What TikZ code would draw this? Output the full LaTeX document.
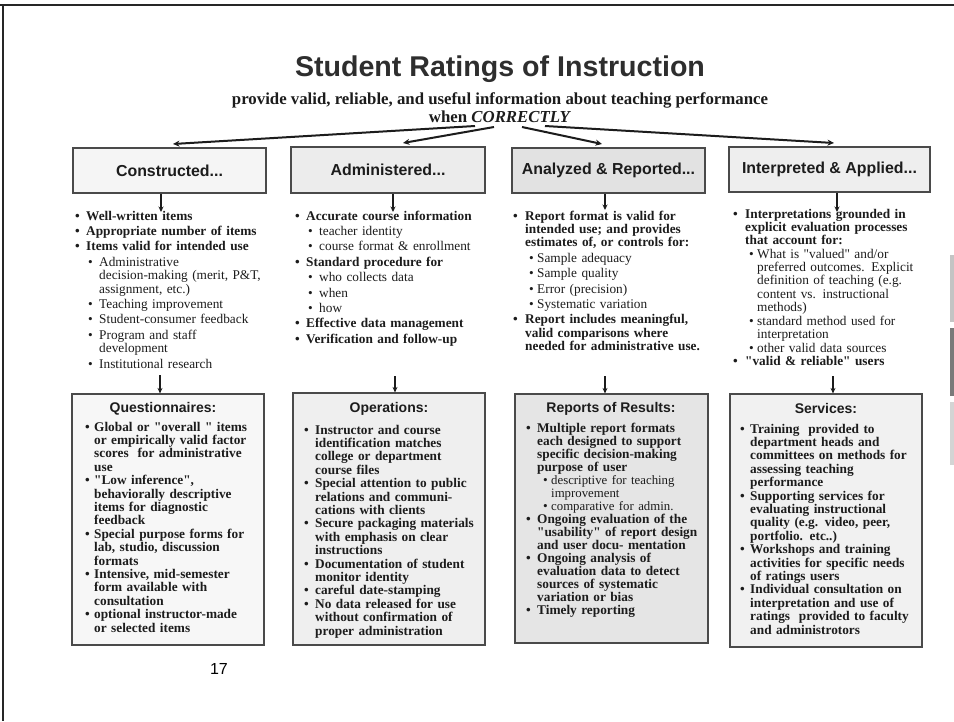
\documentclass[tikz,border=0pt]{standalone}
\usepackage{fontspec}
\usetikzlibrary{arrows.meta,shadows}
\newfontfamily\srf{Liberation Serif}
\newfontfamily\sns{Liberation Sans}
\definecolor{ink}{HTML}{1C1C1C}
\definecolor{edge}{HTML}{4A4A4A}
\definecolor{hba}{HTML}{F5F5F5}
\definecolor{hbb}{HTML}{ECECEC}
\definecolor{hbc}{HTML}{E2E2E2}
\definecolor{hbd}{HTML}{EEEEEE}
\definecolor{bba}{HTML}{F7F7F7}
\definecolor{bbb}{HTML}{EFEFEF}
\definecolor{bbc}{HTML}{E5E5E5}
\definecolor{bbd}{HTML}{F1F1F1}
\def\mind{11pt}\def\sbul{13pt}\def\sind{24pt}
\newcommand{\nl}{\newline}
\newcommand{\mi}[1]{\par\noindent\hangindent=\mind\hangafter=1\strut\makebox[\mind][l]{\bfseries\textbullet}{\bfseries #1\par}}
\newcommand{\si}[1]{\par\noindent\hangindent=\sind\hangafter=1\strut\hspace*{\sbul}\makebox[\dimexpr\sind-\sbul\relax][l]{\textbullet}{#1\par}}
\tikzset{
  hbox/.style={draw=edge, line width=1.2pt, inner sep=0pt, text=ink,
    font=\sns\bfseries\fontsize{15.9}{18}\selectfont,
    drop shadow={shadow xshift=1.3pt, shadow yshift=-1.3pt, fill=black!40, opacity=1}},
  bbox/.style={draw=edge, line width=1.2pt, inner sep=0pt,
    drop shadow={shadow xshift=1.3pt, shadow yshift=-1.3pt, fill=black!40, opacity=1}},
  bhead/.style={inner sep=0pt, text=ink, font=\sns\bfseries\fontsize{14}{16}\selectfont},
  lst/.style={anchor=north west, inner sep=0pt, text width=235pt, text=ink,
    font=\srf\fontsize{13.3}{13.4}\selectfont,
    execute at begin node={\setlength{\parskip}{2pt}\lineskiplimit=-20pt\lineskip=0pt}},
  blst/.style={anchor=north west, inner sep=0pt, text width=200pt, text=ink,
    font=\srf\fontsize{13.3}{13.4}\selectfont,
    execute at begin node={\setlength{\parskip}{0pt}\lineskiplimit=-20pt\lineskip=0pt}},
  bigarr/.style={draw=ink, line width=2pt, -{Stealth[length=6.5pt,width=6pt]}},
  varr/.style={draw=ink, line width=1.6pt, -{Stealth[length=5.5pt,width=5pt]}}
}
\begin{document}
\begin{tikzpicture}[x=1pt,y=-1pt]
\useasboundingbox (0,0) rectangle (954,721);
\fill[white] (0,0) rectangle (954,721);
% frame
\draw[line width=2.6pt, black!85] (0,5) -- (954,5);
\draw[line width=2.3pt, black!85] (3,4) -- (3,721);
% scan strips at right edge
\fill[black!23] (950,255) rectangle (954,322);
\fill[black!52] (950,328) rectangle (954,396);
\fill[black!17] (950,402) rectangle (954,465);

% title
\node[inner sep=0pt, text=black!82, font=\sns\bfseries\fontsize{28.6}{32}\selectfont] (title) at (500,69) {Student Ratings of Instruction};
\node[inner sep=0pt, text=ink, font=\srf\bfseries\fontsize{16.8}{18}\selectfont] (sub) at (500,100) {provide valid, reliable, and useful information about teaching performance};
\node[inner sep=0pt, text=ink, font=\srf\bfseries\fontsize{16.8}{18}\selectfont] (when) at (500,117) {when \textit{CORRECTLY}};

% header boxes
\node[hbox, fill=hba, minimum width=193pt, minimum height=45pt] (b1) at (169.5,170.5) {Constructed...};
\node[hbox, fill=hbb, minimum width=194pt, minimum height=46pt] (b2) at (388,170) {Administered...};
\node[hbox, fill=hbc, minimum width=193pt, minimum height=45pt] (b3) at (608.5,170.5) {Analyzed \& Reported...};
\node[hbox, fill=hbd, minimum width=201pt, minimum height=45pt] (b4) at (829.5,169.5) {Interpreted \& Applied...};

% arrows from subtitle
\coordinate (s1) at (475,126);
\coordinate (s2) at (494,127);
\coordinate (s3) at (522,127);
\coordinate (s4) at (545,126);
\coordinate (e1) at (173,144);
\coordinate (e2) at (403,143);
\coordinate (e3) at (602,144);
\coordinate (e4) at (834,143);
\draw[bigarr] (s1) -- (e1);
\draw[bigarr] (s2) -- (e2);
\draw[bigarr] (s3) -- (e3);
\draw[bigarr] (s4) -- (e4);

% middle columns
\node[lst] (c1) at (75,204.5) {%
\mi{Well-written items}
\mi{Appropriate number of items}
\mi{Items valid for intended use}
\si{Administrative\nl decision-making (merit, P\&T,\nl assignment, etc.)}
\si{Teaching improvement}
\si{Student-consumer feedback}
\si{Program and staff\nl development}
\si{Institutional research}};

\node[lst] (c2) at (295,204.5) {%
\mi{Accurate course information}
\si{teacher identity}
\si{course format \& enrollment}
\mi{Standard procedure for}
\si{who collects data}
\si{when}
\si{how}
\mi{Effective data management}
\mi{Verification and follow-up}};

\node[lst] (c3) at (513,204.5) {\def\mind{12pt}\def\sbul{16pt}%
\mi{Report format is valid for\nl intended use; and provides\nl estimates of, or controls for:}
\si{Sample adequacy}
\si{Sample quality}
\si{Error (precision)}
\si{Systematic variation}
\mi{Report includes meaningful,\nl valid comparisons where\nl needed for administrative use.}};

\node[lst] (c4) at (733,204.5) {\def\mind{12pt}\def\sbul{16pt}\setlength{\parskip}{0.8pt}%
\fontsize{13.3}{13.1}\selectfont
\mi{Interpretations grounded in\nl explicit evaluation processes\nl that account for:}
\si{What is "valued" and/or\nl preferred outcomes. Explicit\nl definition of teaching (e.g.\nl content vs. instructional\nl methods)}
\si{standard method used for\nl interpretation}
\si{other valid data sources}
\mi{"valid \& reliable" users}};

% arrows header -> columns
\coordinate (a1) at (161,212);
\coordinate (a2) at (393,212);
\coordinate (a3) at (605,210);
\coordinate (a4) at (837,212);
\draw[varr] (b1.south -| a1) -- (a1);
\draw[varr] (b2.south -| a2) -- (a2);
\draw[varr] (b3.south -| a3) -- (a3);
\draw[varr] (b4.south -| a4) -- (a4);

% bottom boxes
\node[bbox, fill=bba, minimum width=192pt, minimum height=251pt] (q) at (168,519.5) {};
\node[bbox, fill=bbb, minimum width=192pt, minimum height=252pt] (ops) at (389,519) {};
\node[bbox, fill=bbc, minimum width=193pt, minimum height=249pt] (rep) at (611.5,518.5) {};
\node[bbox, fill=bbd, minimum width=192pt, minimum height=253pt] (srv) at (826,520.5) {};

\node[bhead] (qh) at (163,408.5) {Questionnaires:};
\node[bhead] (opsh) at (389,409) {Operations:};
\node[bhead] (reph) at (611,408.5) {Reports of Results:};
\node[bhead] (srvh) at (826,408.5) {Services:};

\node[blst] (ql) at (85,417.5) {\def\mind{9pt}%
\mi{Global or "overall " items\nl or empirically valid factor\nl scores~ for administrative\nl use}
\mi{"Low inference",\nl behaviorally descriptive\nl items for diagnostic\nl feedback}
\mi{Special purpose forms for\nl lab, studio, discussion\nl formats}
\mi{Intensive, mid-semester\nl form available with\nl consultation}
\mi{optional instructor-made\nl or selected items}};

\node[blst] (opsl) at (304,420.5) {%
\mi{Instructor and course\nl identification matches\nl college or department\nl course files}
\mi{Special attention to public\nl relations and communi-\nl cations with clients}
\mi{Secure packaging materials\nl with emphasis on clear\nl instructions}
\mi{Documentation of student\nl monitor identity}
\mi{careful date-stamping}
\mi{No data released for use\nl without confirmation of\nl proper administration}};

\node[blst] (repl) at (526,419.5) {\def\sbul{17pt}\def\sind{25pt}%
\fontsize{13.3}{13}\selectfont
\mi{Multiple report formats\nl each designed to support\nl specific decision-making\nl purpose of user}
\si{\fontsize{12.8}{12.8}\selectfont descriptive for teaching\nl improvement}
\si{\fontsize{12.8}{12.8}\selectfont comparative for admin.}
\mi{Ongoing evaluation of the\nl "usability" of report design\nl and user docu- mentation}
\mi{Ongoing analysis of\nl evaluation data to detect\nl sources of systematic\nl variation or bias}
\mi{Timely reporting}};

\node[blst] (srvl) at (740,419.5) {\def\mind{10pt}%
\mi{Training~ provided to\nl department heads and\nl committees on methods for\nl assessing teaching\nl performance}
\mi{Supporting services for\nl evaluating instructional\nl quality (e.g. video, peer,\nl portfolio. etc..)}
\mi{Workshops and training\nl activities for specific needs\nl of ratings users}
\mi{Individual consultation on\nl interpretation and use of\nl ratings~ provided to faculty\nl and administrotors}};

% arrows columns -> bottom boxes
\coordinate (d1) at (160,375);
\coordinate (d2) at (395,376);
\coordinate (d3) at (605,376);
\coordinate (d4) at (833,376);
\draw[varr] (d1) -- (d1 |- q.north);
\draw[varr] (d2) -- (d2 |- ops.north);
\draw[varr] (d3) -- (d3 |- rep.north);
\draw[varr] (d4) -- (d4 |- srv.north);

% page number
\node[inner sep=0pt, text=black, font=\sns\fontsize{16}{18}\selectfont] (pg) at (219,669) {17};
\end{tikzpicture}
\end{document}
